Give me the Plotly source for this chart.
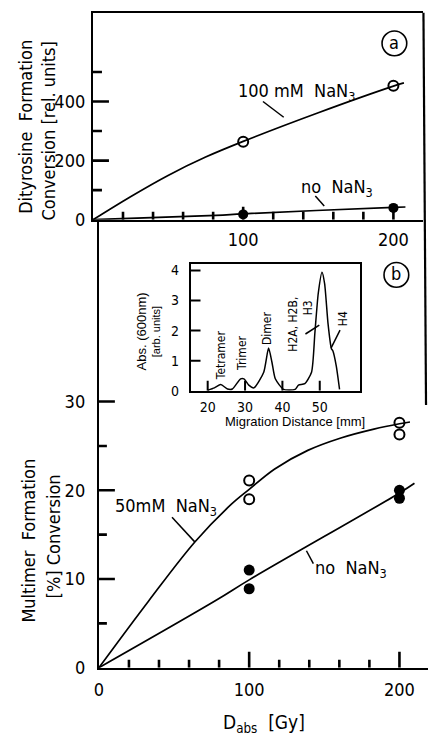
import plotly.graph_objects as go

# ---------------- data ----------------
# Panel (a): dityrosine formation vs absorbed dose
dose_a = [100, 200]
dityr_100mM = [264, 453]
dityr_none = [18, 40]
fit_a_100mM_x = [0, 25, 50, 75, 100, 150, 200, 207]
fit_a_100mM_y = [0, 78, 150, 212, 265, 362, 452, 463]
fit_a_none_x = [0, 82, 100, 200, 208]
fit_a_none_y = [0, 15, 20, 42, 43]

# Panel (b): multimer formation vs absorbed dose
dose_b = [100, 100, 200, 200]
multi_50mM = [21.1, 19.0, 27.6, 26.3]
multi_none = [11.0, 8.9, 20.0, 19.1]
fit_b_50mM_x = [0, 33, 64, 88, 100, 117, 139, 161, 183, 200, 207]
fit_b_50mM_y = [0, 7.5, 14.2, 18.4, 20.1, 22.4, 24.5, 25.9, 26.9, 27.5, 27.7]
fit_b_none_x = [0, 78, 100, 200, 210]
fit_b_none_y = [0, 7.6, 9.9, 19.7, 20.8]

# Inset: densitometer trace
migration_mm = [20.0, 21.8, 23.5, 25.3, 26.6, 28.8, 29.7, 31.0, 32.4, 35.0, 36.3, 37.2,
                38.1, 40.3, 43.4, 44.3, 46.0, 47.8, 48.7, 49.6, 50.6, 51.3, 52.2, 53.1,
                53.5, 54.4, 55.3]
absorbance = [0.02, 0.1, 0.21, 0.06, 0.06, 0.4, 0.4, 0.19, 0.1, 0.62, 1.42, 0.95,
              0.4, 0.05, 0.05, 0.19, 0.24, 0.62, 1.93, 3.24, 3.94, 3.56, 2.25, 1.41,
              1.33, 0.84, 0.05]

# tick positions / labels
dose_minor = [20, 40, 60, 80, 120, 140, 160, 180]
dose_major_a = [100, 200]
dose_major_b = [0, 100, 200]
dityr_minor = [100, 300, 500]
dityr_major = [200, 400]
dityr_labels = [0, 200, 400]
multi_minor = [5, 15, 25]
multi_major = [10, 20, 30]
multi_labels = [0, 10, 20, 30]
mig_ticks = [20, 30, 40, 50]
abs_ticks = [1, 2, 3, 4]
abs_labels = [0, 1, 2, 3, 4]

W, H = 428, 744
F = "DejaVu Sans Condensed, Liberation Sans Narrow, Liberation Sans, sans-serif"
F2 = "Liberation Sans, Arial, sans-serif"

X_A = [0, 220]
Y_A = [0, 700]
X_B = [0, 219]
Y_B = [0, 50.5]
X_C = [15.4, 60.8]
Y_C = [0, 4.22]


def fx(p):
    return p / W


def fy(p):
    return 1 - p / H


fig = go.Figure()

line = dict(color="black", width=1.7)
fig.add_trace(go.Scatter(x=fit_a_100mM_x, y=fit_a_100mM_y, mode="lines", line_shape="spline",
                         line=line, xaxis="x", yaxis="y", showlegend=False))
fig.add_trace(go.Scatter(x=fit_a_none_x, y=fit_a_none_y, mode="lines", line_shape="spline",
                         line=line, xaxis="x", yaxis="y", showlegend=False))
fig.add_trace(go.Scatter(x=dose_a, y=dityr_100mM, mode="markers",
                         marker=dict(symbol="circle-open", size=10, color="black", line=dict(width=2)),
                         xaxis="x", yaxis="y", showlegend=False))
fig.add_trace(go.Scatter(x=dose_a, y=dityr_none, mode="markers",
                         marker=dict(symbol="circle", size=10, color="black"),
                         xaxis="x", yaxis="y", showlegend=False))

fig.add_trace(go.Scatter(x=fit_b_50mM_x, y=fit_b_50mM_y, mode="lines", line_shape="spline",
                         line=line, xaxis="x2", yaxis="y2", showlegend=False))
fig.add_trace(go.Scatter(x=fit_b_none_x, y=fit_b_none_y, mode="lines", line_shape="spline",
                         line=line, xaxis="x2", yaxis="y2", showlegend=False))
fig.add_trace(go.Scatter(x=dose_b, y=multi_50mM, mode="markers",
                         marker=dict(symbol="circle-open", size=10, color="black", line=dict(width=2)),
                         xaxis="x2", yaxis="y2", showlegend=False))
fig.add_trace(go.Scatter(x=dose_b, y=multi_none, mode="markers",
                         marker=dict(symbol="circle", size=11, color="black"),
                         xaxis="x2", yaxis="y2", showlegend=False))

fig.add_trace(go.Scatter(x=migration_mm, y=absorbance, mode="lines", line_shape="spline",
                         line=dict(color="black", width=1.5, smoothing=0.6),
                         xaxis="x3", yaxis="y3", showlegend=False))

tf = dict(family=F, size=18, color="black")
labels_ax = dict(showgrid=False, zeroline=False, showline=True, linecolor="black", linewidth=2.2,
                 ticks="", tickmode="array", tickfont=tf)

fig.update_layout(
    width=W, height=H, autosize=False,
    margin=dict(l=0, r=0, t=0, b=0),
    paper_bgcolor="white", plot_bgcolor="rgba(0,0,0,0)",
    xaxis=dict(labels_ax, domain=[fx(89), fx(423.4)], range=X_A, anchor="y",
               tickvals=dose_major_a, mirror=True, ticklabelstandoff=3),
    yaxis=dict(labels_ax, domain=[fy(222), fy(12)], range=Y_A, anchor="x",
               tickvals=dityr_labels, ticklabelstandoff=2),
    xaxis2=dict(labels_ax, domain=[fx(95), 1.0], range=X_B, anchor="y2",
                tickvals=dose_major_b, ticklabelstandoff=5),
    yaxis2=dict(labels_ax, domain=[fy(676.7), fy(222)], range=Y_B, anchor="x2",
                tickvals=multi_labels, ticklabelstandoff=8),
    xaxis3=dict(labels_ax, linewidth=1.6, domain=[fx(187.7), fx(359.3)], range=X_C,
                anchor="y3", tickvals=mig_ticks, mirror=True, ticklabelstandoff=3,
                tickfont=dict(family=F, size=14, color="black")),
    yaxis3=dict(labels_ax, linewidth=1.6, domain=[fy(395.7), fy(266.7)], range=Y_C,
                anchor="x3", tickvals=abs_labels, mirror=True, ticklabelstandoff=7,
                tickfont=dict(family=F, size=14, color="black")),
)

shapes = []


# inward tick marks, placed through the axes' own scales, sized in pixels
def xticks(xref, yref, base, vals, ln, width=2.6):
    for v in vals:
        shapes.append(dict(type="line", xref=xref, yref=yref, x0=v, x1=v, layer="above",
                           ysizemode="pixel", yanchor=base, y0=0, y1=ln,
                           line=dict(color="black", width=width)))


def yticks(xref, yref, base, vals, ln, width=2.6):
    for v in vals:
        shapes.append(dict(type="line", xref=xref, yref=yref, y0=v, y1=v, layer="above",
                           xsizemode="pixel", xanchor=base, x0=0, x1=ln,
                           line=dict(color="black", width=width)))


xticks("x", "y", Y_A[0], dose_minor, 8)
xticks("x", "y", Y_A[0], dose_major_a, 13)
yticks("x", "y", X_A[0], dityr_minor, 9)
yticks("x", "y", X_A[0], dityr_major, 16)
xticks("x2", "y2", Y_B[0], dose_minor, 8)
xticks("x2", "y2", Y_B[0], dose_major_b[1:], 16)
yticks("x2", "y2", X_B[0], multi_minor, 8)
yticks("x2", "y2", X_B[0], multi_major, 16)
xticks("x3", "y3", Y_C[0], mig_ticks, 10, 2)
yticks("x3", "y3", X_C[0], abs_ticks, 10, 2)

# frame right border, circled panel letters, leader lines
shapes.append(dict(type="line", xref="paper", yref="paper", x0=fx(423.4), y0=fy(12),
                   x1=fx(426), y1=fy(410), line=dict(color="black", width=2.2)))
for cx, cy in [(394, 43), (396, 278)]:
    shapes.append(dict(type="circle", xref="paper", yref="paper",
                       x0=fx(cx - 12.5), x1=fx(cx + 12.5), y0=fy(cy + 12.5), y1=fy(cy - 12.5),
                       line=dict(color="black", width=1.6)))
leaders = [((261, 102), (282, 118)), ((314, 198), (323, 208)),
           ((169, 524), (192, 549)), ((305, 558), (312, 571)),
           ((304, 338), (318, 329)), ((339, 334), (330, 352))]
for (x0, y0), (x1, y1) in leaders:
    shapes.append(dict(type="line", xref="paper", yref="paper", x0=fx(x0), y0=fy(y0),
                       x1=fx(x1), y1=fy(y1), line=dict(color="black", width=1.5)))
fig.update_layout(shapes=shapes)


def ann(text, x, y, size=18, angle=0, family=F):
    return dict(text=text, x=fx(x), y=fy(y), xref="paper", yref="paper", showarrow=False,
                xanchor="center", yanchor="middle", textangle=angle,
                font=dict(family=family, size=size, color="black"))


NB = "\u00a0"
annotations = [
    ann("a", 394, 42, 18),
    ann("b", 396, 277, 18),
    ann("Dityrosine" + NB + NB + "Formation", 20, 128, 18, -90),
    ann("Conversion [rel. units]", 44, 132, 18, -90),
    ann("Multimer" + NB + NB + "Formation", 24, 548, 18, -90),
    ann("[%] Conversion", 50, 543, 18, -90),
    ann("D<sub>abs</sub>" + NB + NB + "[Gy]", 262, 733, 19),
    ann("100" + NB + "mM" + NB + NB + "NaN<sub>3</sub>", 295, 92, 18),
    ann("no" + NB + NB + "NaN<sub>3</sub>", 336, 190, 18),
    ann("50mM" + NB + NB + "NaN<sub>3</sub>", 163, 514, 18),
    ann("no" + NB + NB + "NaN<sub>3</sub>", 350, 577, 18),
    ann("Abs. (600nm)", 138, 335, 13, -90, F2),
    ann("[arb. units]", 153, 336, 11, -90, F2),
    ann("Migration Distance [mm]", 293, 427, 13, 0, F2),
    ann("Tetramer", 218, 359, 12, -90),
    ann("Trimer", 240, 358, 12, -90),
    ann("Dimer", 265, 332, 12, -90),
    ann("H2A, H2B,", 292, 328, 12, -90),
    ann("H3", 306.5, 311, 12, -90),
    ann("H4", 342, 323, 12, -90),
]
fig.update_layout(annotations=annotations)

fig.write_html("out.html")
